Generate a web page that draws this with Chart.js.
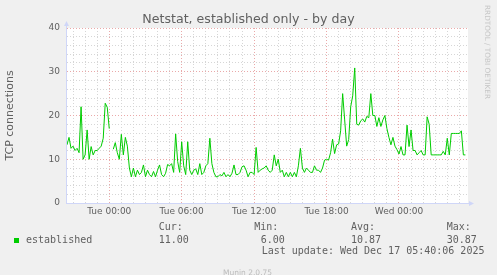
<!DOCTYPE html>
<html><head><meta charset="utf-8">
<script src="https://cdn.jsdelivr.net/npm/chart.js@4"></script>
<style>
html,body{margin:0;padding:0;background:#F0F0F0;}
#wrap{position:relative;width:497px;height:275px;overflow:hidden;background:#F0F0F0;}
canvas{position:absolute;left:0;top:0;}
.t{position:absolute;white-space:pre;}
.mono{font-family:"DejaVu Sans Mono",monospace;font-size:10px;line-height:10px;color:#606060;}
</style></head><body>
<div id="wrap">
<canvas id="c" width="497" height="275"></canvas>
<div class="t" style="left:0;width:497px;text-align:center;top:13.3px;font-family:'DejaVu Sans';font-size:12.6px;line-height:12.6px;color:#606060">Netstat, established only - by day</div>
<div class="t" style="left:491px;top:5px;transform-origin:0 0;transform:rotate(90deg);font-family:'DejaVu Sans';font-size:7.3px;line-height:7.3px;color:#c4c4c4">RRDTOOL / TOBI OETIKER</div>
<div class="t" style="left:14px;top:238px;width:5px;height:5px;background:#00CC00"></div>
<div class="t" style="left:223px;top:269.2px;font-family:'DejaVu Sans';font-size:7.5px;line-height:7.5px;color:#bbb">Munin 2.0.75</div>
</div>
<script>
// ---- data ----
const seriesName = 'established';
const startMinute = -210;   // first sample, minutes relative to Tue 00:00
const stepMinutes = 10;
const values = [
 13.3,15,12.5,13,12,12.5,11.5,22,10,11,
 16.7,10,12.9,11,12,12,12.5,13,14.8,22.8,
 21.9,17,null,12.3,13.8,11.5,10,15.7,11,15,
 13,8,6,8,6,7.5,6.5,7,8.7,6,
 7.5,6.5,6,7.2,6,7.5,8.7,6.5,6,6.8,
 8.8,8.5,9,7,15.8,9.5,7,14,8.5,6.5,
 14,7.5,6.5,7.5,7.8,6.5,9,6.5,7,8.5,
 9,14.8,9,7,6,6,6.5,6.2,7,6,
 6.5,6,6.8,8.7,6.5,6.5,7,8.3,8.5,7.5,
 6,7,7,6.5,12.7,7,7.5,7.8,8,8.5,
 7.5,7,7.5,11,8.5,10,7,7.5,6,7,
 6,7,6,7,6,8.5,12.5,8,7,8,
 7.5,7,7,8.5,7.5,7.5,7,8,9.8,10,
 9.8,11.5,14.6,11.3,13.3,13.5,16.5,25,19,13,
 14.5,22,24.5,30.87,18,17.8,18.8,19.2,18.5,19.8,
 19.5,25,20,20,17.5,19.5,17.5,19,20,17,
 15,13.3,15,13,12.2,11.2,12.9,11,11,17.8,
 12.9,16.7,12,12,11,11.5,12,11,11,19.7,
 18,11,11,11,11,11,11,11.8,11,14.8,
 11,15.9,15.9,15.9,15.9,15.9,16.5,11,11
];
const xMinMinute = -215;
const xMaxMinute = 1783;
const xLabelMinutes = [0, 360, 720, 1080, 1440];
const xTickLabels = ['Tue 00:00', 'Tue 06:00', 'Tue 12:00', 'Tue 18:00', 'Wed 00:00'];
const yMin = 0, yMax = 40, yStep = 2;
const yLabelValues = [0, 10, 20, 30, 40];
const statHeads = ['Cur:', 'Min:', 'Avg:', 'Max:'];
const statValues = ['11.00', '6.00', '10.87', '30.87'];
const lastUpdate = 'Last update: Wed Dec 17 05:40:06 2025';

// ---- legend (HTML text) ----
function addText(txt, left, top) {
  const d = document.createElement('div');
  d.className = 't mono';
  d.style.left = left + 'px'; d.style.top = top + 'px';
  d.textContent = txt;
  document.getElementById('wrap').appendChild(d);
}
const headLefts = [158.7, 254.3, 351, 446.7];
const valLefts = [158.7, 260.7, 351, 446.7];
statHeads.forEach((h, i) => addText(h, headLefts[i], 222.0));
addText(seriesName, 26, 234.5);
statValues.forEach((v, i) => addText(v, valLefts[i], 234.5));
addText(lastUpdate, 261.7, 246.2);

// ---- chart ----
const points = values.map((v, i) => ({ x: startMinute + i * stepMinutes, y: v }));
const hourTicks = [];
for (let m = Math.ceil(xMinMinute / 60) * 60; m < xMaxMinute; m += 60) hourTicks.push(m);

const MAJOR = '#eaa9a9', MINOR = '#d6d6d6', AXIS = '#CFD6F8', FONT = '#606060';

const plotBg = {
  id: 'plotBg',
  beforeDraw(chart) {
    const { ctx, chartArea: a } = chart;
    ctx.save(); ctx.fillStyle = '#ffffff';
    ctx.fillRect(a.left, a.top, a.right - a.left, a.bottom - a.top);
    ctx.restore();
  }
};
const arrows = {
  id: 'arrows',
  afterDraw(chart) {
    const { ctx, chartArea: a } = chart;
    ctx.save();
    ctx.strokeStyle = AXIS; ctx.fillStyle = AXIS; ctx.lineWidth = 1;
    ctx.beginPath();
    ctx.moveTo(a.left + 0.5, a.bottom + 1); ctx.lineTo(a.left + 0.5, a.top - 3);
    ctx.moveTo(a.left, a.bottom + 0.5); ctx.lineTo(a.right + 3, a.bottom + 0.5);
    ctx.stroke();
    ctx.beginPath();
    ctx.moveTo(a.left + 0.5, a.top - 7); ctx.lineTo(a.left - 2, a.top - 2); ctx.lineTo(a.left + 3, a.top - 2);
    ctx.closePath(); ctx.fill();
    ctx.beginPath();
    ctx.moveTo(a.right + 6, a.bottom + 0.5); ctx.lineTo(a.right + 1, a.bottom - 2); ctx.lineTo(a.right + 1, a.bottom + 3);
    ctx.closePath(); ctx.fill();
    ctx.restore();
  }
};

new Chart(document.getElementById('c'), {
  type: 'line',
  data: { datasets: [{ label: seriesName, data: points, borderColor: '#00CC00', borderWidth: 1,
    pointRadius: 0, tension: 0, spanGaps: false, fill: false }] },
  options: {
    responsive: false, animation: false, devicePixelRatio: 1,
    layout: { padding: { left: 0, right: 29, top: 28, bottom: 52 } },
    plugins: { legend: { display: false }, tooltip: { enabled: false }, title: { display: false } },
    scales: {
      x: {
        type: 'linear', min: xMinMinute, max: xMaxMinute,
        afterBuildTicks: s => { s.ticks = hourTicks.map(v => ({ value: v })); },
        afterFit: s => { s.height = 20; },
        grid: { color: c => (c.tick && c.tick.value % 360 === 0) ? MAJOR : MINOR, lineWidth: 1, drawTicks: false },
        border: { display: true, color: AXIS, dash: [1, 2] },
        ticks: {
          autoSkip: false, maxRotation: 0, minRotation: 0, padding: 3, color: FONT,
          font: { family: 'DejaVu Sans', size: 9 },
          callback: v => { const k = xLabelMinutes.indexOf(v); return k >= 0 ? xTickLabels[k] : ''; }
        }
      },
      y: {
        min: yMin, max: yMax,
        afterFit: s => { s.width = 66; },
        grid: { color: c => (c.tick && c.tick.value % 10 === 0) ? MAJOR : MINOR, lineWidth: 1, drawTicks: false },
        border: { display: true, color: AXIS, dash: [1, 2] },
        ticks: {
          stepSize: yStep, autoSkip: false, padding: 6, color: FONT,
          font: { family: 'DejaVu Sans', size: 9 },
          callback: v => yLabelValues.includes(v) ? String(v) : ''
        },
        title: { display: true, text: 'TCP connections', color: FONT,
          font: { family: 'DejaVu Sans', size: 11 }, padding: { top: 4, bottom: 0 } }
      }
    }
  },
  plugins: [plotBg, arrows]
});
</script>
</body></html>
